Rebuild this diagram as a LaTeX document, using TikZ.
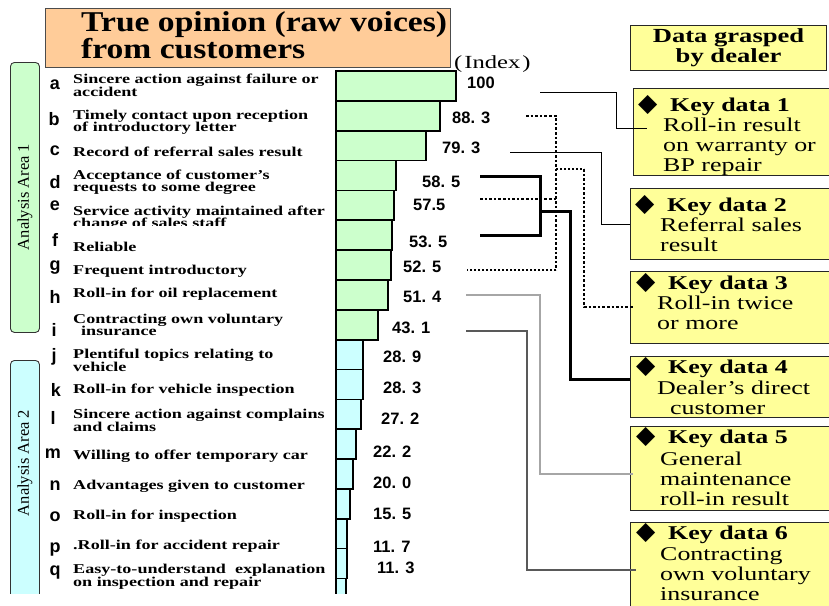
\documentclass[tikz,border=0pt]{standalone}
\usepackage{fontspec}
\setmainfont{Liberation Serif}
\setsansfont{Liberation Sans}
\newfontfamily\headfont[FakeStretch=1.17]{Liberation Serif}
\newfontfamily\widefont[FakeStretch=1.34]{Liberation Serif}
\newfontfamily\keyfont[FakeStretch=1.33]{Liberation Serif}
\newfontfamily\symfont{DejaVu Sans}
\definecolor{peach}{RGB}{255,204,153}
\definecolor{keyyellow}{RGB}{255,255,153}
\definecolor{areagreen}{RGB}{204,255,204}
\definecolor{areacyan}{RGB}{204,255,255}
\begin{document}
\begin{tikzpicture}[x=1pt,y=-1pt,
  item/.style={anchor=west,inner sep=0pt,align=left,font=\widefont\bfseries\fontsize{13.5}{12.5}\selectfont},
  letter/.style={inner sep=0pt,font=\sffamily\bfseries\fontsize{18}{18}\selectfont},
  value/.style={anchor=west,inner sep=0pt,font=\sffamily\bfseries\fontsize{16.5}{16.5}\selectfont},
  keybox/.style={draw=black!85,line width=1.1pt,fill=keyyellow,anchor=north west,inner sep=0pt,minimum width=205pt},
  keyhead/.style={anchor=base west,inner sep=0pt,font=\keyfont\fontsize{19.5}{20}\selectfont},
  keytext/.style={anchor=west,inner sep=0pt,align=left,font=\keyfont\fontsize{19.5}{20}\selectfont},
  areabox/.style={draw=black!80,line width=0.9pt,rounded corners=4pt,anchor=north west,inner sep=0pt,minimum width=29pt},
  arealabel/.style={rotate=90,inner sep=0pt,font=\fontsize{16.5}{16.5}\selectfont},
  bar/.style={draw=black,line width=1.7pt},
  thinlink/.style={draw=black,line width=1pt},
  dotthick/.style={draw=black,line width=2.6pt,dash pattern=on 2.6pt off 2pt},
  dotthin/.style={draw=black,line width=1.8pt,dash pattern=on 2pt off 2pt},
  boldlink/.style={draw=black,line width=3pt},
]
\useasboundingbox (0,0) rectangle (829,605);

% ---------- heading ----------
\node[draw=black!70,line width=1pt,fill=peach,anchor=north west,inner sep=0pt,
      minimum width=405pt,minimum height=59pt] (ttl) at (45,8) {};
\node[anchor=west,inner sep=0pt,align=left,
      font=\headfont\bfseries\fontsize{28.7}{24}\selectfont] (ttltext) at (81,35)
      {True opinion (raw voices)\\from customers};
\node[anchor=base west,inner sep=0pt,font=\keyfont\fontsize{18.5}{18.5}\selectfont] (idx) at (454,68)
      {(\hspace{2pt}Index\hspace{2pt})};

% ---------- analysis areas and bars (the slide is cut at the bottom) ----------
\node[areabox,fill=areagreen,minimum height=270pt] (ar1) at (10,62) {};
\node[arealabel] (ar1t) at (25,197) {Analysis Area 1};
\begin{scope}
  \clip (0,0) rectangle (829,593);
  \node[areabox,fill=areacyan,minimum height=260pt] (ar2) at (10,360) {};
  \foreach \r [count=\i from 0] in {456,440,426,396,394,392,391,388,378}
    \draw[bar,fill=areagreen] (336,{71+29.85*\i}) rectangle (\r,{71+29.85*(\i+1)});
  \foreach \r [count=\i from 9] in {363,363,361,356,353,350,347,347,346}
    \draw[bar,fill=areacyan] (336,{71+29.85*\i}) rectangle (\r,{71+29.85*(\i+1)});
\end{scope}
\node[arealabel] (ar2t) at (25,463) {Analysis Area 2};

% ---------- item letters ----------
\node[letter] (la) at (55,85) {a};
\node[letter] (lb) at (54,119) {b};
\node[letter] (lc) at (55,151) {c};
\node[letter] (ld) at (55,182) {d};
\node[letter] (le) at (55,206) {e};
\node[letter] (lf) at (55,240) {f};
\node[letter] (lg) at (55,268) {g};
\node[letter] (lh) at (55,297) {h};
\node[letter] (li) at (54,330) {i};
\node[letter] (lj) at (54,357) {j};
\node[letter] (lk) at (56,390) {k};
\node[letter] (ll) at (53,418) {l};
\node[letter] (lm) at (53,454) {m};
\node[letter] (ln) at (55,486) {n};
\node[letter] (lo) at (55,517) {o};
\node[letter] (lp) at (55,550) {p};
\node[letter] (lq) at (55,573) {q};

% ---------- item texts ----------
\node[item] (ia) at (73,85.5) {Sincere action against failure or\\accident};
\node[item] (ib) at (73,122.5) {Timely contact upon reception\\of introductory letter};
\node[item] (ic) at (73,152) {Record of referral sales result};
\node[item] (id) at (73,182) {Acceptance of customer’s\\requests to some degree};
\begin{scope}
  \clip (60,190) rectangle (335,225.5);
  \node[item] (ie) at (73,218) {Service activity maintained after\\change of sales staff};
\end{scope}
\node[item] (if) at (73,247) {Reliable};
\node[item] (ig) at (73,271) {Frequent introductory};
\node[item] (ih) at (73,294) {Roll-in for oil replacement};
\node[item] (ii) at (73,325) {Contracting own voluntary\\\hspace{8pt}insurance};
\node[item] (ij) at (73,360.5) {Plentiful topics relating to\\vehicle};
\node[item] (ik) at (73,390) {Roll-in for vehicle inspection};
\node[item] (il) at (73,420.5) {Sincere action against complains\\and claims};
\node[item] (im) at (73,456) {Willing to offer temporary car};
\node[item] (in) at (73,486) {Advantages given to customer};
\node[item] (io) at (73,516) {Roll-in for inspection};
\node[item] (ip) at (73,546) {.Roll-in for accident repair};
\node[item] (iq) at (73,576.5) {Easy-to-understand\ \ explanation\\on inspection and repair};

% ---------- index values ----------
\node[value] (va) at (467,83) {100};
\node[value] (vb) at (452,118) {88. 3};
\node[value] (vc) at (442,148) {79. 3};
\node[value] (vd) at (422,182) {58. 5};
\node[value] (ve) at (413,205) {57.5};
\node[value] (vf) at (409,242) {53. 5};
\node[value] (vg) at (403,267) {52. 5};
\node[value] (vh) at (403,297) {51. 4};
\node[value] (vi) at (392,328) {43. 1};
\node[value] (vj) at (383,357) {28. 9};
\node[value] (vk) at (383,388) {28. 3};
\node[value] (vl) at (381,419) {27. 2};
\node[value] (vm) at (373,452) {22. 2};
\node[value] (vn) at (373,483) {20. 0};
\node[value] (vo) at (373,514) {15. 5};
\node[value] (vp) at (373,547) {11. 7};
\node[value] (vq) at (377,568) {11. 3};

% ---------- dealer side ----------
\node[keybox,minimum width=196pt,minimum height=45pt,align=center,
      font=\keyfont\bfseries\fontsize{20}{20}\selectfont] (dg) at (630,25) {Data grasped\\by dealer};

\node[keybox,minimum height=87pt] (k1) at (633,88) {};
\node[keybox,minimum height=71pt] (k2) at (630,188) {};
\node[keybox,minimum height=72pt] (k3) at (630,271) {};
\node[keybox,minimum height=61pt] (k4) at (630,356) {};
\node[keybox,minimum height=84pt] (k5) at (630,426) {};
\node[keybox,minimum height=100pt] (k6) at (630,522) {};

\newcommand\keytitle[1]{\makebox[32pt][l]{\symfont\fontsize{25}{25}\selectfont ◆}\textbf{Key data #1}}
\node[keyhead] (k1h) at (638,111) {\keytitle{1}};
\node[keyhead] (k2h) at (635,211) {\keytitle{2}};
\node[keyhead] (k3h) at (636,289) {\keytitle{3}};
\node[keyhead] (k4h) at (636,373) {\keytitle{4}};
\node[keyhead] (k5h) at (636,443) {\keytitle{5}};
\node[keyhead] (k6h) at (636,539) {\keytitle{6}};

\node[keytext] (k1t) at (663,147) {Roll-in result\\on warranty or\\BP repair};
\node[keytext] (k2t) at (660,235) {Referral sales\\result};
\node[keytext] (k3t) at (657,313) {Roll-in twice\\or more};
\node[keytext] (k4t) at (657,398) {Dealer’s direct\\\hspace{13pt}customer};
\node[keytext] (k5t) at (660,479) {General\\maintenance\\roll-in result};
\node[keytext] (k6t) at (660,574) {Contracting\\own voluntary\\insurance};

% ---------- connectors ----------
\coordinate (s1) at (540,92);   \coordinate (t1) at (647,128);
\coordinate (s2) at (510,152);  \coordinate (t2) at (630,224);
\coordinate (s3b) at (526,116); \coordinate (s3e) at (480,199);
\coordinate (s3g) at (467,270); \coordinate (t3) at (634,307);
\coordinate (s4d) at (480,176); \coordinate (s4f) at (480,235);
\coordinate (t4) at (630,379);
\coordinate (s5) at (466,295);  \coordinate (t5) at (633,474);
\coordinate (s6) at (466,331);  \coordinate (t6) at (636,570);

% key data 1 and 2
\draw[thinlink] (s1) -- (616,92) |- (t1);
\draw[thinlink,line width=0.9pt] (s2) -- (601,152) |- (t2);
% key data 3 (dotted)
\draw[dotthick] (s3b) -- (556,116) -- (556,270);
\draw[dotthin] (556,270) -- (s3g);
\draw[dotthick] (s3e) -- (556,199);
\draw[dotthin] (556,169) -- (584,169);
\draw[dotthick] (584,169) |- (t3);
% key data 4 (bold)
\draw[boldlink] (s4d) -- (540,176) -- (540,235) -- (s4f);
\draw[boldlink] (540,211) -- (570,211) |- (t4);
% key data 5 and 6
\draw[draw=black!35,line width=1.5pt] (s5) -- (540,295) |- (t5);
\draw[draw=black!65,line width=1.3pt] (s6) -- (527,331) |- (t6);
\end{tikzpicture}
\end{document}
